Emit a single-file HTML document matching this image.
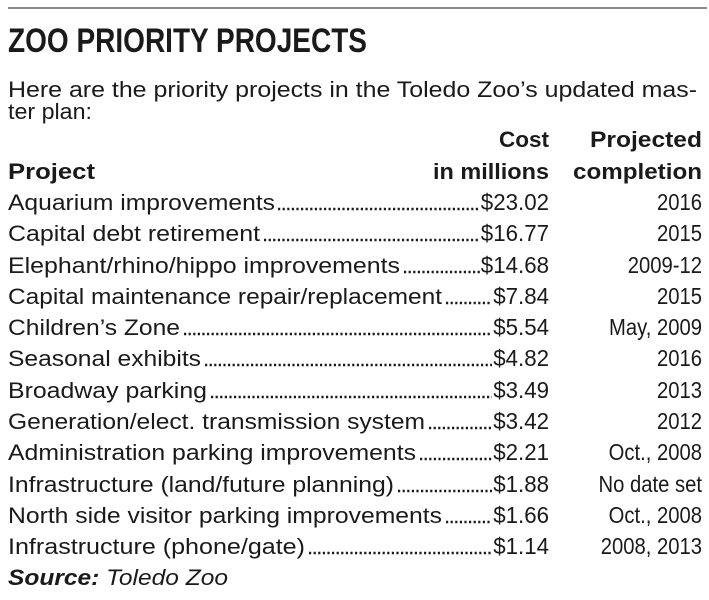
<!DOCTYPE html>
<html><head><meta charset="utf-8"><style>
html,body{margin:0;padding:0;background:#fff;}
svg{display:block;}
text{font-family:"Liberation Sans",Arial,sans-serif;fill:#1a1a1a;}
</style></head><body>
<svg width="709" height="600" viewBox="0 0 709 600" xmlns="http://www.w3.org/2000/svg">
<rect x="8" y="7" width="699" height="2" fill="#8a8a8a"/>
<text x="8" y="52" font-size="34" font-weight="bold" textLength="359" lengthAdjust="spacingAndGlyphs">ZOO PRIORITY PROJECTS</text>
<text x="8" y="97" font-size="22" textLength="689" lengthAdjust="spacingAndGlyphs">Here are the priority projects in the Toledo Zoo’s updated mas-</text>
<text x="8" y="119" font-size="22" textLength="84" lengthAdjust="spacingAndGlyphs">ter plan:</text>
<g font-weight="bold" font-size="22">
<text x="549" y="147" text-anchor="end" textLength="50" lengthAdjust="spacingAndGlyphs">Cost</text>
<text x="702" y="147" text-anchor="end" textLength="112" lengthAdjust="spacingAndGlyphs">Projected</text>
<text x="8" y="179" textLength="87" lengthAdjust="spacingAndGlyphs">Project</text>
<text x="549" y="179" text-anchor="end" textLength="116" lengthAdjust="spacingAndGlyphs">in millions</text>
<text x="702" y="179" text-anchor="end" textLength="129" lengthAdjust="spacingAndGlyphs">completion</text>
</g>
<g font-size="22">
<text x="8" y="210" textLength="267" lengthAdjust="spacingAndGlyphs">Aquarium improvements</text>
<text x="8" y="241" textLength="252" lengthAdjust="spacingAndGlyphs">Capital debt retirement</text>
<text x="8" y="273" textLength="392" lengthAdjust="spacingAndGlyphs">Elephant/rhino/hippo improvements</text>
<text x="8" y="304" textLength="434" lengthAdjust="spacingAndGlyphs">Capital maintenance repair/replacement</text>
<text x="8" y="335" textLength="172" lengthAdjust="spacingAndGlyphs">Children’s Zone</text>
<text x="8" y="366" textLength="193" lengthAdjust="spacingAndGlyphs">Seasonal exhibits</text>
<text x="8" y="398" textLength="199" lengthAdjust="spacingAndGlyphs">Broadway parking</text>
<text x="8" y="429" textLength="417" lengthAdjust="spacingAndGlyphs">Generation/elect. transmission system</text>
<text x="8" y="460" textLength="408" lengthAdjust="spacingAndGlyphs">Administration parking improvements</text>
<text x="8" y="492" textLength="386" lengthAdjust="spacingAndGlyphs">Infrastructure (land/future planning)</text>
<text x="8" y="523" textLength="434" lengthAdjust="spacingAndGlyphs">North side visitor parking improvements</text>
<text x="8" y="554" textLength="297" lengthAdjust="spacingAndGlyphs">Infrastructure (phone/gate)</text>
</g>
<g stroke="#1a1a1a" stroke-width="2.4" stroke-dasharray="2.2 2.4" fill="none">
<line x1="278" y1="209" x2="480" y2="209"/>
<line x1="264" y1="240" x2="480" y2="240"/>
<line x1="404" y1="272" x2="480" y2="272"/>
<line x1="446" y1="303" x2="492" y2="303"/>
<line x1="184" y1="334" x2="492" y2="334"/>
<line x1="205" y1="365" x2="492" y2="365"/>
<line x1="211" y1="397" x2="492" y2="397"/>
<line x1="429" y1="428" x2="492" y2="428"/>
<line x1="420" y1="459" x2="492" y2="459"/>
<line x1="398" y1="491" x2="492" y2="491"/>
<line x1="446" y1="522" x2="492" y2="522"/>
<line x1="309" y1="553" x2="492" y2="553"/>
</g>
<g font-size="23" text-anchor="end" transform="translate(549,0) scale(0.97,1)">
<text x="0" y="210">$23.02</text>
<text x="0" y="241">$16.77</text>
<text x="0" y="273">$14.68</text>
<text x="0" y="304">$7.84</text>
<text x="0" y="335">$5.54</text>
<text x="0" y="366">$4.82</text>
<text x="0" y="398">$3.49</text>
<text x="0" y="429">$3.42</text>
<text x="0" y="460">$2.21</text>
<text x="0" y="492">$1.88</text>
<text x="0" y="523">$1.66</text>
<text x="0" y="554">$1.14</text>
</g>
<g font-size="23" text-anchor="end" transform="translate(702,0) scale(0.88,1)">
<text x="0" y="210">2016</text>
<text x="0" y="241">2015</text>
<text x="0" y="273">2009-12</text>
<text x="0" y="304">2015</text>
<text x="0" y="335">May, 2009</text>
<text x="0" y="366">2016</text>
<text x="0" y="398">2013</text>
<text x="0" y="429">2012</text>
<text x="0" y="460">Oct., 2008</text>
<text x="0" y="492">No date set</text>
<text x="0" y="523">Oct., 2008</text>
<text x="0" y="554">2008, 2013</text>
</g>
<text x="8" y="585" font-size="22" font-style="italic" textLength="220" lengthAdjust="spacingAndGlyphs"><tspan font-weight="bold">Source:</tspan> Toledo Zoo</text>
</svg>
</body></html>
